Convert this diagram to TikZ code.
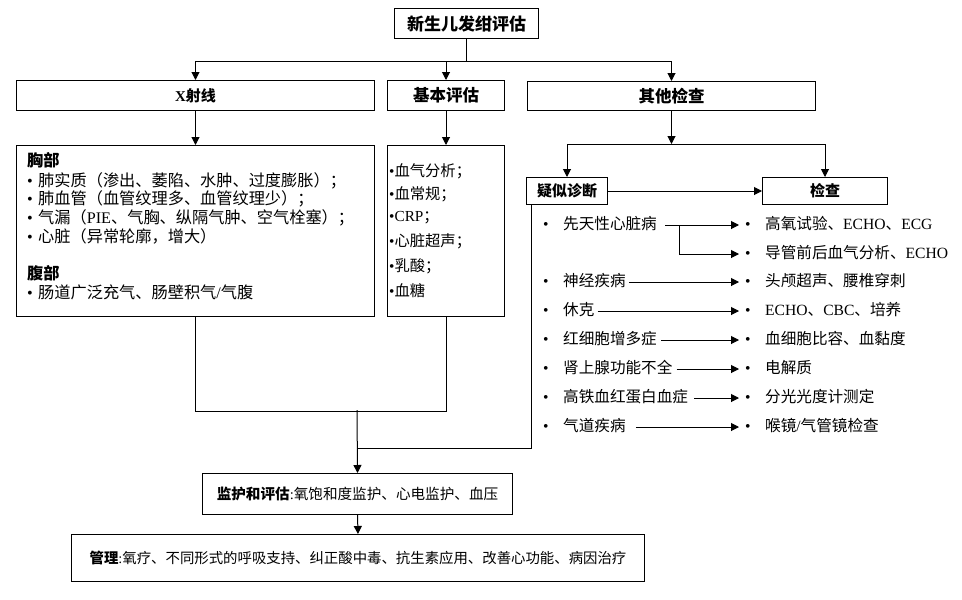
\documentclass[tikz,border=0pt]{standalone}
\usepackage{fontspec}
\setmainfont{Noto Sans CJK SC}
\newfontfamily\latfam{Liberation Serif}
\newcommand{\lat}[1]{{\latfam #1}}
\usetikzlibrary{arrows.meta}
\newcommand{\fsL}{\fontsize{15.6}{18}\selectfont}
\newcommand{\fsC}{\fontsize{16.2}{18}\selectfont}
\newcommand{\fsM}{\fontsize{15.3}{17}\selectfont}
\newcommand{\bul}[1]{\makebox[#1][l]{\lat{•}}}
\begin{document}
\begin{tikzpicture}[x=1pt,y=-1pt,
  box/.style={draw, line width=1pt, inner sep=0pt, anchor=north west, align=center},
  ln/.style={line width=1pt},
  arr/.style={line width=1pt, -{Triangle[length=8pt,width=8pt]}},
  item/.style={anchor=west, inner sep=0pt, text height=11pt, text depth=3pt},
  hdA/.style={font=\fontsize{17}{19}\selectfont\bfseries},
  hdB/.style={font=\fontsize{16.5}{19}\selectfont\bfseries},
  hdC/.style={font=\fontsize{15}{18}\selectfont\bfseries},
]
\useasboundingbox (0,0) rectangle (962,600);

% top level boxes
\node[box, minimum width=144pt, minimum height=30pt, hdA] (top) at (394,8) {新生儿发绀评估};
\node[box, minimum width=358pt, minimum height=30pt, hdC] (xray) at (16,80) {\lat{X}射线};
\node[box, minimum width=117pt, minimum height=30pt, hdB] (basic) at (387,80) {基本评估};
\node[box, minimum width=288pt, minimum height=29pt, hdB] (other) at (527,81) {其他检查};

% content boxes
\node[box, minimum width=358pt, minimum height=171pt] (chest) at (16,145) {};
\node[box, minimum width=117pt, minimum height=171pt] (lab) at (387,145) {};
\node[box, minimum width=81pt, minimum height=27pt, hdC] (sus) at (526,177) {疑似诊断};
\node[box, minimum width=125pt, minimum height=27pt, hdC] (chk) at (762,177) {检查};

\node[box, minimum width=310pt, minimum height=41pt, font=\fontsize{14.6}{17}\selectfont] (mon) at (202,473)
  {{\bfseries 监护和评估}\lat{:}氧饱和度监护、心电监护、血压};
\node[box, minimum width=573pt, minimum height=47pt, font=\fontsize{14.4}{16}\selectfont] (mgmt) at (71,534)
  {{\bfseries 管理}\lat{:}氧疗、不同形式的呼吸支持、纠正酸中毒、抗生素应用、改善心功能、病因治疗};

% chest box text
\begin{scope}[every node/.style={item, font=\fsC}]
\node[font=\fsC\bfseries] (c0) at (27,162) {胸部};
\node (c1) at (27,182) {\bul{11pt}肺实质（渗出、萎陷、水肿、过度膨胀）；};
\node (c2) at (27,200) {\bul{11pt}肺血管（血管纹理多、血管纹理少）；};
\node (c3) at (27,219) {\bul{11pt}气漏（\lat{PIE}、气胸、纵隔气肿、空气栓塞）；};
\node (c4) at (27,238) {\bul{11pt}心脏（异常轮廓，增大）};
\node[font=\fsC\bfseries] (c5) at (27,275) {腹部};
\node (c6) at (27,294) {\bul{11pt}肠道广泛充气、肠壁积气\lat{/}气腹};
\end{scope}

% lab box text
\begin{scope}[every node/.style={item, font=\fsM}]
\node (b1) at (389,172) {\lat{•}血气分析；};
\node (b2) at (389,195) {\lat{•}血常规；};
\node (b3) at (389,217) {\lat{•}\lat{CRP}；};
\node (b4) at (389,242) {\lat{•}心脏超声；};
\node (b5) at (389,267) {\lat{•}乳酸；};
\node (b6) at (389,292) {\lat{•}血糖};
\end{scope}

% diagnosis list
\begin{scope}[every node/.style={item, font=\fsL}]
\node (d1) at (543,225) {\bul{20pt}先天性心脏病};
\node (d2) at (543,282) {\bul{20pt}神经疾病};
\node (d3) at (543,311) {\bul{20pt}休克};
\node (d4) at (543,340) {\bul{20pt}红细胞增多症};
\node (d5) at (543,369) {\bul{20pt}肾上腺功能不全};
\node (d6) at (543,398) {\bul{20pt}高铁血红蛋白血症};
\node (d7) at (543,427) {\bul{20pt}气道疾病};
\node (e1) at (745,225) {\bul{20pt}高氧试验、\lat{ECHO}、\lat{ECG}};
\node (e2) at (745,254) {\bul{20pt}导管前后血气分析、\lat{ECHO}};
\node (e3) at (745,282) {\bul{20pt}头颅超声、腰椎穿刺};
\node (e4) at (745,311) {\bul{20pt}\lat{ECHO}、\lat{CBC}、培养};
\node (e5) at (745,340) {\bul{20pt}血细胞比容、血黏度};
\node (e6) at (745,369) {\bul{20pt}电解质};
\node (e7) at (745,398) {\bul{20pt}分光光度计测定};
\node (e8) at (745,427) {\bul{20pt}喉镜\lat{/}气管镜检查};
\end{scope}

% connectors: top level
\draw[ln] (top.south) -- ++(0,22) coordinate (j1);
\draw[arr] (j1) -| (xray.north);
\draw[arr] (j1) -| (basic.north);
\draw[arr] (j1) -| (other.north);
\draw[arr] (xray.south) -- (chest.north);
\draw[arr] (basic.south) -- (lab.north);

% other checks branch
\draw[arr] (other.south) -- ++(0,33) coordinate (j2);
\draw[ln] (sus.north |- j2) -- (chk.north |- j2);
\draw[arr] (sus.north |- j2) -- (sus.north);
\draw[arr] (chk.north |- j2) -- (chk.north);
\draw[arr] (sus.east) -- (chk.west);

% list arrows
\coordinate (br) at (679,225);
\draw[ln] ([xshift=8pt]d1.east) -- (br);
\draw[arr] (br) -- ([xshift=-6pt]e1.west);
\draw[arr] (br) |- ([xshift=-6pt]e2.west);
\draw[arr] ([xshift=3pt]d2.east) -- ([xshift=-6pt]e3.west);
\draw[arr] ([xshift=3pt]d3.east) -- ([xshift=-6pt]e4.west);
\draw[arr] ([xshift=4pt]d4.east) -- ([xshift=-6pt]e5.west);
\draw[arr] ([xshift=4pt]d5.east) -- ([xshift=-6pt]e6.west);
\draw[arr] ([xshift=6pt]d6.east) -- ([xshift=-6pt]e7.west);
\draw[arr] ([xshift=10pt]d7.east) -- ([xshift=-6pt]e8.west);

% bottom merge
\draw[ln] (chest.south) -- ++(0,94) coordinate (k1) -| (lab.south);
\coordinate (m1) at (357,410);
\coordinate (m2) at (357,448);
\draw[ln] ([xshift=5pt]sus.south west) |- (m2);
\draw[arr] (m1) -- (mon.north);
\draw[arr] (mon.south) -- (mgmt.north);
\end{tikzpicture}
\end{document}
